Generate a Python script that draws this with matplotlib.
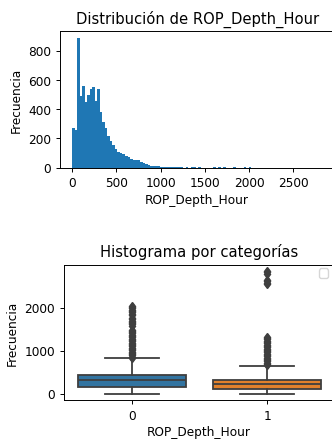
import matplotlib.pyplot as plt
import numpy as np

# histograma: 100 bins de 0 a 2850
bin_edges = np.linspace(0, 2850, 101)
conteos = [270, 255, 890, 490, 560, 450, 500, 540, 555, 460,
           540, 380, 310, 275, 220, 185, 155, 130, 110, 100,
           95, 78, 72, 58, 55, 55, 50, 38, 32, 28,
           17, 14, 10, 9, 11, 6, 5, 4, 5, 3,
           2, 3, 2, 2, 1, 2, 1, 3, 2, 0,
           2, 0, 0, 1, 0, 0, 2, 0, 2, 0,
           2, 0, 0, 0, 2, 0, 0, 0, 2, 1,
           2, 0, 0, 0, 0, 0, 0, 0, 0, 0,
           0, 0, 0, 0, 0, 0, 0, 0, 0, 1,
           0, 1, 0, 0, 0, 0, 0, 0, 0, 1]

# boxplot por categoria (estadisticos)
categorias = [0, 1]
q1 = [147, 109]
mediana = [318, 225]
q3 = [435, 326]
bigote_inf = [0, 0]
bigote_sup = [821, 651]
atipicos_0 = list(range(830, 1500, 30)) + list(range(1580, 1780, 30)) + list(range(1830, 2070, 30))
atipicos_1 = list(range(660, 1330, 30)) + [2540, 2580, 2620, 2650, 2780, 2820, 2850]
colores = ['#3274a1', '#e1812c']

## escala: el original estaba reducido (~0.87)
s = 0.87
plt.rcParams['font.size'] = 10 * s
plt.rcParams['axes.titlesize'] = 10.6
plt.rcParams['axes.linewidth'] = 0.8 * s
plt.rcParams['xtick.major.width'] = 0.8 * s
plt.rcParams['ytick.major.width'] = 0.8 * s
plt.rcParams['xtick.major.size'] = 3.5 * s
plt.rcParams['ytick.major.size'] = 3.5 * s

fig = plt.figure(figsize=(3.32, 4.395), dpi=100)

## Histograma (la figura original esta recortada a la derecha)
ax1 = fig.add_axes([0.1807, 0.6173, 0.8193, 0.3105])
ax1.hist(bin_edges[:-1], bins=bin_edges, weights=conteos, color='#1f77b4')
ax1.set_xlim(-136, 2938)
ax1.set_ylim(0, 934.5)
ax1.spines['right'].set_visible(False)
ax1.set_title("Distribución de ROP_Depth_Hour", x=0.507)
ax1.set_xlabel("ROP_Depth_Hour", x=0.503, labelpad=3)
ax1.set_ylabel("Frecuencia")
ax1.set_xticks([0, 500, 1000, 1500, 2000, 2500])
ax1.set_yticks([0, 200, 400, 600, 800])

## Boxplot por categorias
ax2 = fig.add_axes([0.1937, 0.0888, 0.8063, 0.3076])
stats = []
for i, c in enumerate(categorias):
    stats.append(dict(med=mediana[i], q1=q1[i], q3=q3[i],
                      whislo=bigote_inf[i], whishi=bigote_sup[i],
                      fliers=[atipicos_0, atipicos_1][i], label=str(c)))
gris = '#3f3f3f'
lw = 1.5 * s
bp = ax2.bxp(stats, positions=categorias, widths=0.8, capwidths=0.4,
             patch_artist=True,
             boxprops=dict(edgecolor=gris, linewidth=lw),
             medianprops=dict(color=gris, linewidth=lw),
             whiskerprops=dict(color=gris, linewidth=lw),
             capprops=dict(color=gris, linewidth=lw),
             flierprops=dict(marker='d', markersize=5 * s, markerfacecolor=gris,
                             markeredgecolor=gris))
for caja, col in zip(bp['boxes'], colores):
    caja.set_facecolor(col)
ax2.set_xlim(-0.5, 1.48)
ax2.set_ylim(-142.5, 2992.5)
ax2.spines['right'].set_visible(False)
ax2.set_title("Histograma por categorías", x=0.503)
ax2.set_xlabel("ROP_Depth_Hour", x=0.503, labelpad=2.5)
ax2.set_ylabel("Frecuencia")
ax2.set_yticks([0, 1000, 2000])
ax2.legend(handles=[], loc='upper right', borderaxespad=0.3)

plt.savefig("out.png", dpi=100)
